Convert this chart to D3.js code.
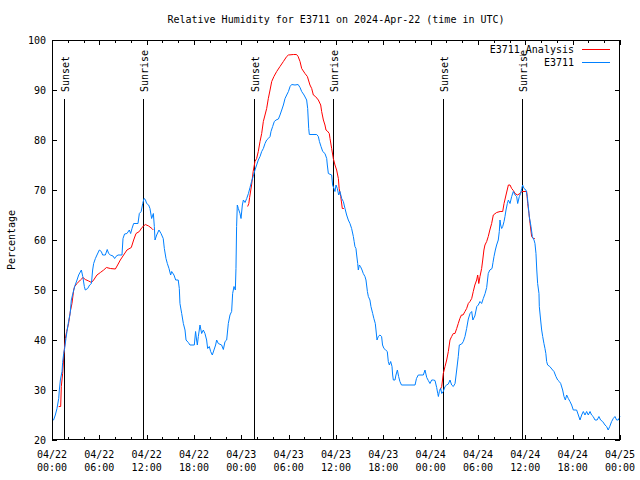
<!DOCTYPE html>
<html><head><meta charset="utf-8">
<script src="https://cdn.jsdelivr.net/npm/d3@7"></script>
<style>
body{margin:0;background:#fff;}
svg{display:block;}
text{font-family:"DejaVu Sans Mono","Liberation Mono",monospace;font-size:10px;fill:#000;}
</style></head><body>
<svg id="c" width="640" height="480"></svg>
<script>
const titleText = "Relative Humidity for E3711 on 2024-Apr-22 (time in UTC)";
const yLabel = "Percentage";
const startTime = "2024-04-22T00:00:00Z";
const spanHours = 72;
const yTicks = [20,30,40,50,60,70,80,90,100];
const seriesNames = ["E3711_Analysis","E3711"];
const seriesColors = ["#ff0000","#0080ff"];

// observations (hours since start, %)
const obsHours = [0.05,0.2,0.42,0.63,0.85,0.93,1.06,1.27,1.35,1.48,1.6,1.77,1.9,2.1,2.3,2.45,2.6,2.87,3.17,3.38,3.72,3.9,4.1,4.22,4.52,4.77,5.0,5.15,5.28,5.5,5.7,6.0,6.25,6.42,6.76,7.0,7.18,7.4,7.73,7.94,8.1,8.37,8.87,9.0,9.2,9.5,9.8,9.97,10.14,10.35,10.9,11.07,11.3,11.5,11.66,11.83,12.0,12.25,12.42,12.63,12.85,12.97,13.06,13.27,13.56,13.82,14.1,14.24,14.45,14.62,14.83,15.04,15.17,15.46,15.68,16.0,16.14,16.22,16.44,16.65,16.86,16.99,17.28,17.49,18.04,18.2,18.33,18.42,18.55,18.76,18.97,19.18,19.39,19.6,19.73,19.94,20.11,20.32,20.53,20.74,20.87,21.08,21.5,21.72,21.93,22.14,22.35,22.56,22.77,22.9,23.07,23.24,23.32,23.4,23.49,23.62,23.83,23.96,24.13,24.26,24.47,24.68,24.9,25.1,25.3,25.5,25.73,25.94,26.15,26.37,26.58,26.79,27.0,27.21,27.42,27.64,27.76,27.97,28.18,28.4,28.7,28.9,29.12,29.33,29.54,29.75,29.97,30.18,30.38,30.8,31.2,31.44,31.65,31.95,32.28,32.41,32.54,32.62,33.55,33.76,33.9,34.1,34.32,34.6,34.82,34.9,35.03,35.45,35.57,35.74,35.87,36.0,36.17,36.34,36.5,36.72,36.93,37.14,37.35,37.56,37.77,37.98,38.2,38.3,38.4,38.53,38.62,38.75,38.83,38.96,39.1,39.3,39.46,39.67,39.8,39.98,40.1,40.3,40.43,40.65,40.8,40.98,41.07,41.2,41.36,41.57,41.78,41.9,42.08,42.3,42.5,42.63,42.76,42.93,43.1,43.18,43.27,43.48,43.6,43.78,43.94,44.1,44.3,46.02,46.2,46.43,47.07,47.28,47.5,47.7,47.91,48.13,48.34,48.55,48.76,48.9,48.98,49.1,49.27,49.4,49.6,49.82,50.03,50.24,50.45,50.66,50.87,51.09,51.3,51.5,51.63,51.93,52.14,52.35,52.56,52.77,52.99,53.2,53.35,53.6,53.85,54.04,54.25,54.46,54.67,54.9,55.1,55.3,55.5,55.78,55.9,56.03,56.2,56.36,56.57,56.7,56.79,56.87,57.0,57.13,57.3,57.42,57.55,57.72,57.85,58.06,58.27,58.48,58.7,58.9,59.03,59.24,59.4,59.54,59.66,59.83,60.08,60.25,60.38,60.5,60.72,60.89,61.1,61.22,61.35,61.45,61.56,61.73,61.77,61.94,62.07,62.2,62.36,62.49,62.6,62.7,62.83,63.1,63.46,63.63,63.88,64.1,64.3,64.48,64.73,64.9,65.07,65.24,65.45,65.66,65.87,66.08,66.5,66.72,66.93,67.14,67.35,67.56,67.77,67.98,68.2,68.4,68.6,68.83,69.1,69.33,69.54,69.8,70.1,70.3,70.5,70.7,70.94,71.15,71.36,71.57,71.78,72.0];
const obsRH = [24,24,25,26.3,28.3,30,32,33.7,35.5,37.3,38.3,40.3,41.7,43.7,45.3,48,49,50.7,52,53,54,52.7,50.7,50,50.3,51,51.3,54,55.3,56.3,57,58,57.7,57,57,58.1,57.3,57,56.8,56.3,56.7,57,57,60.3,61.2,61.3,62,61.3,62.3,63.3,63.3,65.3,65.7,67.3,68.3,68.1,67.3,67,66.3,64.3,65.3,62.7,60,61,62,61.3,60.3,58.3,56.3,55.3,54.3,53,53.7,53,52,52,50.3,47.3,45.3,43.3,42,40,39.5,39,39,41.7,40,39,40.7,43,41.3,42,41.3,40,38.3,38.7,37.7,37,38,39,40,39.3,39,38.1,39.7,40,43.3,45,45.7,49.3,50.7,50,54.3,62.7,67,66.3,65.3,64.3,67,68,67.5,68.3,69.3,70.5,71.7,72.7,74,75,76,76.7,77.7,78.3,79.3,80,80.3,80.7,81.7,82.7,83.7,84,84.2,85,86,87,88.3,89,89.7,90.7,91.1,91,91.1,90.5,89.7,89,88,86.3,82.3,81.1,81.1,80.7,79.7,78.7,77.7,77.3,76.3,75,73.3,73,71,70.3,69.7,71,70.3,69,69.7,68.3,67.7,66.3,65,64,63.3,62.3,60.7,59.7,58.7,58.3,57,55.3,54,55,54.7,54,53.3,52.7,52,49.7,48.7,48,46.7,45.3,44.3,43.3,42,40,40.7,41,40.7,39,38.3,38,37.7,35.7,35,35.7,34.7,33,32,32,33,34,32.7,31.7,31,31,32.3,33,33,34,32.5,31.9,31.3,32,32,31.9,30.5,29.3,28.7,29.7,30.3,29.3,29.7,30.7,31,31.2,32,31,30.7,31.3,34,36.7,39,39.2,39.7,40.7,42.3,44.2,45.3,45.7,44,44.8,46.7,47,47.7,47.3,48.3,49.3,50.5,53.3,54,54.3,55.5,56.7,58,59,60,61.7,64,63,62.3,62.7,63.7,64.7,66,67.3,68,67.3,68.7,69.7,69,68.7,67.3,68.7,69.3,70.3,71,70.3,70,68.7,66.7,64.7,62.7,60.7,60,59.3,57.3,54,51.3,49.3,46.7,44,42,40.7,39.3,38.3,37.3,35.7,35,34.7,34,33.7,32.7,32,31.7,31.3,30,28.7,28,29,28.3,27.7,27,26,26,25,24,25,25.7,25,25.7,25,25.7,25,24.7,24,24,24.7,24,23.7,23,22.7,22,22.7,23.7,24.3,24.7,24,24,24.7];

// analysis (hours since start, %), null = gap between nights
const anaHours = [0.85,1.1,1.18,1.35,1.52,1.69,1.86,2.1,2.32,2.53,2.75,2.87,3.17,3.6,3.93,4.22,4.65,5.0,5.28,5.7,6.13,6.55,6.9,7.4,8.03,8.32,8.66,9.08,9.5,10.05,10.35,10.65,11.07,11.4,11.83,12.25,12.67,12.85,null,
24.8,24.95,25.05,25.3,25.5,25.73,25.94,26.15,26.37,26.58,26.79,27.0,27.21,27.42,27.64,27.85,28.13,28.48,28.9,29.33,29.75,29.97,30.6,31.0,31.2,31.44,31.65,32.07,32.37,32.7,32.92,33.13,33.4,33.76,34.06,34.18,34.4,34.6,34.73,34.9,35.15,35.24,35.45,35.66,35.87,36.08,36.3,36.4,36.6,36.8,37.0,null,
49.18,49.4,49.6,49.82,50.03,50.24,50.45,50.66,50.87,51.08,51.3,51.5,51.7,51.9,52.1,52.35,52.56,52.77,52.98,53.2,53.4,53.6,53.83,53.96,54.1,54.25,54.46,54.6,54.75,54.88,55.1,55.3,55.5,55.73,55.94,56.36,56.8,57.13,57.3,57.55,57.85,58.06,58.27,58.48,58.7,59.0,59.33,59.54,60.17,60.3,60.46,60.6,60.8,61.0,61.2];
const anaRH = [26.7,26.7,30.7,33.3,37.3,40.3,41.7,43.3,45.7,47.3,50,50.7,51.3,52,52.5,52.1,51.8,51.5,52,53,53.5,54,54.5,54.3,54.2,55,56,57,58,58.5,60,61.3,61.7,62.5,63.1,62.8,62.3,62,null,
66.7,67.3,68.5,71,73.7,75.7,76.3,77.7,79.7,81.3,83.7,85,86.3,88.3,90,91.7,92.7,93.7,94.7,95.7,96.7,97,97.1,97.1,96.7,95.7,94.3,93.3,92.7,91,90.3,89,88.7,88,87,85.7,84,83,82,81.8,81.3,80.3,78.3,76.3,75,74,72.3,70.3,68.7,66.3,66.3,null,
30,30.7,33.3,34.7,36,37.7,40,40.7,41.3,41.3,42.3,43.3,44.3,45,45,45.7,46.3,47.3,47.7,48.3,49.7,51,52,53,51.3,52.7,54.3,56,58,59,59.7,60.7,62,63.3,65,65.5,65.7,65.7,67.3,69,71,71,70.3,69.9,69.3,69,69.3,69.7,69.7,67.3,65.3,63.3,60.7,60.3,60.3];

const sunHours = [1.56,11.57,25.64,35.66,49.6,59.6];
const sunLabels = ["Sunset","Sunrise","Sunset","Sunrise","Sunset","Sunrise"];

const t0 = new Date(startTime);
const toDate = h => new Date(t0.getTime() + h*3600e3);

const W = 640, H = 480;
const L = 52, R = 620, T = 40, B = 440;
const svg = d3.select("#c");
svg.append("rect").attr("width",W).attr("height",H).attr("fill","#fff");

const x = d3.scaleUtc().domain([t0, toDate(spanHours)]).range([L, R]);
const y = d3.scaleLinear().domain([20, 100]).range([B, T]);

// title
svg.append("text").attr("x", 336).attr("y", 23).attr("text-anchor","middle").text(titleText);
// y label
svg.append("text").attr("transform","translate(15,240) rotate(-90)").attr("text-anchor","middle").text(yLabel);

const majorTicks = x.ticks(d3.utcHour.every(6));
const minorTicks = x.ticks(d3.utcHour.every(2)).filter(d => d.getUTCHours() % 6 !== 0);

function styleAxis(g){
  g.select(".domain").remove();
  g.selectAll("line").attr("stroke","#000").attr("shape-rendering","crispEdges");
  g.selectAll("text").remove();
}
// bottom & top x axes
svg.append("g").attr("transform",`translate(0,${B})`)
  .call(d3.axisBottom(x).tickValues(majorTicks).tickSizeInner(-5).tickSizeOuter(0)).call(styleAxis);
svg.append("g").attr("transform",`translate(0,${B})`)
  .call(d3.axisBottom(x).tickValues(minorTicks).tickSizeInner(-3).tickSizeOuter(0)).call(styleAxis);
svg.append("g").attr("transform",`translate(0,${T})`)
  .call(d3.axisTop(x).tickValues(majorTicks).tickSizeInner(-5).tickSizeOuter(0)).call(styleAxis);
svg.append("g").attr("transform",`translate(0,${T})`)
  .call(d3.axisTop(x).tickValues(minorTicks).tickSizeInner(-3).tickSizeOuter(0)).call(styleAxis);
// y axes
svg.append("g").attr("transform",`translate(${L},0)`)
  .call(d3.axisLeft(y).tickValues(yTicks).tickSizeInner(-5).tickSizeOuter(0)).call(styleAxis);
svg.append("g").attr("transform",`translate(${R},0)`)
  .call(d3.axisRight(y).tickValues(yTicks).tickSizeInner(-5).tickSizeOuter(0)).call(styleAxis);

// tick labels
const fmtDate = d3.utcFormat("%m/%d"), fmtTime = d3.utcFormat("%H:%M");
const xl = svg.append("g");
majorTicks.forEach(d => {
  const t = xl.append("text").attr("x", x(d)).attr("text-anchor","middle");
  t.append("tspan").attr("x", x(d)).attr("y", 457.5).text(fmtDate(d));
  t.append("tspan").attr("x", x(d)).attr("y", 470.5).text(fmtTime(d));
});
yTicks.forEach(v => {
  svg.append("text").attr("x", 46).attr("y", y(v) + 3.5).attr("text-anchor","end").text(v);
});

// sunrise / sunset lines
sunHours.forEach((h, i) => {
  const px = Math.round(x(toDate(h))) + 0.5;
  svg.append("line").attr("x1",px).attr("x2",px).attr("y1",99).attr("y2",B)
    .attr("stroke","#000").attr("stroke-width",1).attr("shape-rendering","crispEdges");
  svg.append("text").attr("transform",`translate(${px+4},92) rotate(-90)`).text(sunLabels[i]);
});

// series
const anaData = anaHours.map((h,i) => ({h, v: anaRH[i]}));
const obsData = obsHours.map((h,i) => ({h, v: obsRH[i]}));
const line = d3.line().defined(d => d.h != null && d.v != null)
  .x(d => x(toDate(d.h))).y(d => y(d.v));
svg.append("path").datum(anaData).attr("d", line).attr("fill","none")
  .attr("stroke", seriesColors[0]).attr("stroke-width",1);
svg.append("path").datum(obsData).attr("d", line).attr("fill","none")
  .attr("stroke", seriesColors[1]).attr("stroke-width",1);

// frame
svg.append("rect").attr("x",L+0.5).attr("y",T+0.5).attr("width",R-L-1).attr("height",B-T-1)
  .attr("fill","none").attr("stroke","#000").attr("shape-rendering","crispEdges");

// legend
seriesNames.forEach((n,i) => {
  const ly = 49.5 + i*13;
  svg.append("text").attr("x",574).attr("y",ly+3.5).attr("text-anchor","end").text(n);
  svg.append("line").attr("x1",582).attr("x2",610).attr("y1",ly).attr("y2",ly)
    .attr("stroke",seriesColors[i]).attr("stroke-width",1);
});
</script>
</body></html>
